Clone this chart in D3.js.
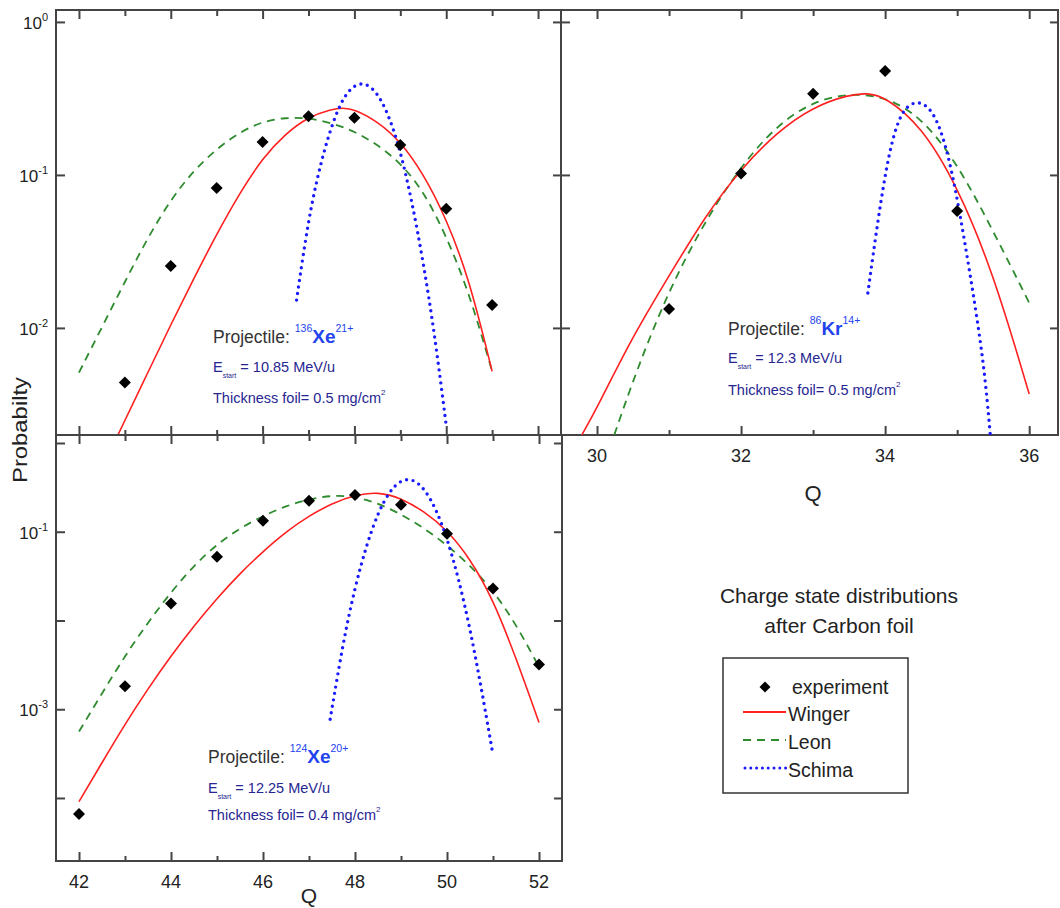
<!DOCTYPE html>
<html><head><meta charset="utf-8">
<script src="https://cdn.jsdelivr.net/npm/d3@7"></script>
<style>
body{margin:0;background:#fff}
svg{font-family:"Liberation Sans",Arial,Helvetica,sans-serif}
</style>
</head><body>
<svg id="c" width="1060" height="908"></svg>
<script>
// ---------------- DATA ----------------
// Panel A: 136Xe21+
const expA_Q = [43,44,45,46,47,48,49,50,51];
const expA_P = [0.0044,0.0254,0.082,0.164,0.242,0.236,0.157,0.060,0.0141];
const wingerA_Q = [42.85,43.5,44,44.5,45,45.5,46,46.5,47,47.5,47.75,48,48.5,49,49.5,50,50.5,51];
const wingerA_P = [0.0020,0.0051,0.0105,0.021,0.041,0.076,0.129,0.186,0.240,0.269,0.275,0.269,0.224,0.166,0.102,0.052,0.021,0.0052];
const leonA_Q = [42,42.5,43,43.5,44,44.5,45,45.5,46,46.5,47,47.5,48,48.5,49,49.5,50,50.5,51];
const leonA_P = [0.0051,0.0101,0.020,0.039,0.069,0.107,0.148,0.19,0.224,0.237,0.236,0.219,0.193,0.158,0.120,0.079,0.040,0.017,0.0052];
const schimaA_Q = [46.74,47.0,47.25,47.5,47.75,48.0,48.25,48.5,48.75,49.0,49.25,49.5,49.75,50.0];
const schimaA_P = [0.0152,0.052,0.115,0.21,0.32,0.39,0.40,0.345,0.245,0.145,0.068,0.027,0.0090,0.0023];

// Panel B: 86Kr14+
const expB_Q = [31,32,33,34,35];
const expB_P = [0.0133,0.102,0.339,0.478,0.058];
const wingerB_Q = [29.79,30,30.5,31,31.5,32,32.5,33,33.5,33.75,34,34.5,35,35.5,36];
const wingerB_P = [0.0020,0.0030,0.0089,0.0219,0.0537,0.110,0.191,0.279,0.335,0.343,0.324,0.21,0.085,0.023,0.0037];
const leonB_Q = [30.24,30.55,31,31.5,32,32.5,33,33.5,34,34.5,35,35.5,36];
const leonB_P = [0.0020,0.0053,0.0178,0.050,0.115,0.212,0.303,0.342,0.326,0.24,0.12,0.043,0.0146];
const schimaB_Q = [33.76,33.9,34.05,34.2,34.35,34.5,34.65,34.8,34.95,35.1,35.25,35.38,35.46];
const schimaB_P = [0.0169,0.051,0.14,0.245,0.295,0.30,0.265,0.185,0.095,0.038,0.014,0.0053,0.0020];

// Panel C: 124Xe20+
const expC_Q = [42,43,44,45,46,47,48,49,50,51,52];
const expC_P = [0.000066,0.00181,0.0155,0.0524,0.133,0.223,0.26,0.201,0.095,0.0229,0.0032];
const wingerC_Q = [42,42.5,43,43.5,44,44.5,45,45.5,46,46.5,47,47.5,48,48.5,49,49.5,50,50.5,51,51.5,52];
const wingerC_P = [0.000091,0.00025,0.00068,0.0017,0.0040,0.0087,0.0178,0.034,0.060,0.100,0.151,0.209,0.26,0.282,0.240,0.170,0.105,0.050,0.0174,0.0038,0.00071];
const leonC_Q = [42,42.5,43,43.5,44,44.5,45,45.5,46,46.5,47,47.5,48,48.5,49,49.5,50,50.5,51,51.5,52];
const leonC_P = [0.00056,0.00151,0.0040,0.0095,0.0209,0.0417,0.0724,0.110,0.151,0.195,0.234,0.257,0.251,0.209,0.158,0.110,0.0708,0.0417,0.0219,0.0091,0.0030];
const schimaC_Q = [47.46,47.75,48.0,48.25,48.5,48.75,49.0,49.25,49.5,49.75,50.0,50.25,50.5,50.75,50.98];
const schimaC_P = [0.00077,0.006,0.0238,0.071,0.164,0.287,0.385,0.396,0.311,0.187,0.086,0.030,0.0082,0.0017,0.00035];

// tick values
const xTicksXe = [42,43,44,45,46,47,48,49,50,51,52];
const xLabelsXe = [42,44,46,48,50,52];
const xTicksKr = [30,31,32,33,34,35,36];
const xLabelsKr = [30,32,34,36];
const yDecadesTop = [1,0.1,0.01];
const yLabelsTop = [0,-1,-2];
const yDecadesBot = [1,0.1,0.01,0.001,0.0001];
const yLabelsBot = [-1,-3];

// annotation texts
const projA = ["136","Xe","21+","= 10.85 MeV/u","0.5"];
const projB = ["86","Kr","14+","= 12.3 MeV/u","0.5"];
const projC = ["124","Xe","20+","= 12.25 MeV/u","0.4"];
const legendNames = ["experiment","Winger","Leon","Schima"];
const titleLines = ["Charge state distributions","after Carbon foil"];

// ---------------- DRAW ----------------
const svg = d3.select("#c");
const AX = "#444";
const cWinger = "#ff2020", cLeon = "#2e8b2e", cSchima = "#1a1aff";
const zip = (q,p) => q.map((v,i)=>({q:v,p:p[i]}));

const panels = [
  {id:"A", x:d3.scaleLinear().domain([41.5,52.5]).range([56,561]),
   y:d3.scaleLog().domain([Math.pow(10,-2.7),Math.pow(10,0.078)]).range([435,10]),
   exp:zip(expA_Q,expA_P), w:zip(wingerA_Q,wingerA_P), l:zip(leonA_Q,leonA_P), s:zip(schimaA_Q,schimaA_P),
   xt:xTicksXe, major:v=>v%2===0, dec:yDecadesTop},
  {id:"B", x:d3.scaleLinear().domain([29.5,36.4]).range([561,1058]),
   y:d3.scaleLog().domain([Math.pow(10,-2.7),Math.pow(10,0.078)]).range([435,10]),
   exp:zip(expB_Q,expB_P), w:zip(wingerB_Q,wingerB_P), l:zip(leonB_Q,leonB_P), s:zip(schimaB_Q,schimaB_P),
   xt:xTicksKr, major:v=>v%2===0, dec:yDecadesTop},
  {id:"C", x:d3.scaleLinear().domain([41.5,52.5]).range([56,562]),
   y:d3.scaleLog().domain([Math.pow(10,-4.71),Math.pow(10,0.09)]).range([861,435]),
   exp:zip(expC_Q,expC_P), w:zip(wingerC_Q,wingerC_P), l:zip(leonC_Q,leonC_P), s:zip(schimaC_Q,schimaC_P),
   xt:xTicksXe, major:v=>v%2===0, dec:yDecadesBot}
];

const defs = svg.append("defs");

function styleAxis(g){
  g.select(".domain").remove();
  g.selectAll(".tick line").attr("stroke",AX).attr("stroke-width",2);
}

panels.forEach(P=>{
  const [x0,x1] = P.x.range(), [y1,y0] = P.y.range();
  defs.append("clipPath").attr("id","clip"+P.id).append("rect")
    .attr("x",x0).attr("y",y0).attr("width",x1-x0).attr("height",y1-y0);
  const g = svg.append("g");
  const majors = P.xt.filter(P.major), minors = P.xt.filter(v=>!P.major(v));
  g.append("g").attr("transform",`translate(0,${y1})`).call(d3.axisBottom(P.x).tickValues(majors).tickSize(-9).tickSizeOuter(0).tickFormat("")).call(styleAxis);
  g.append("g").attr("transform",`translate(0,${y1})`).call(d3.axisBottom(P.x).tickValues(minors).tickSize(-5).tickSizeOuter(0).tickFormat("")).call(styleAxis);
  g.append("g").attr("transform",`translate(0,${y0})`).call(d3.axisTop(P.x).tickValues(majors).tickSize(-9).tickSizeOuter(0).tickFormat("")).call(styleAxis);
  g.append("g").attr("transform",`translate(0,${y0})`).call(d3.axisTop(P.x).tickValues(minors).tickSize(-6).tickSizeOuter(0).tickFormat("")).call(styleAxis);
  g.append("g").attr("transform",`translate(${x0},0)`).call(d3.axisLeft(P.y).tickValues(P.dec).tickSize(-9).tickSizeOuter(0).tickFormat("")).call(styleAxis);
  g.append("g").attr("transform",`translate(${x1},0)`).call(d3.axisRight(P.y).tickValues(P.dec).tickSize(-8).tickSizeOuter(0).tickFormat("")).call(styleAxis);
  g.append("rect").attr("x",x0).attr("y",y0).attr("width",x1-x0).attr("height",y1-y0)
    .attr("fill","none").attr("stroke",AX).attr("stroke-width",2);

  const cg = g.append("g").attr("clip-path",`url(#clip${P.id})`);
  const line = d3.line().x(d=>P.x(d.q)).y(d=>P.y(d.p)).curve(d3.curveBasis);
  cg.append("path").attr("d",line(P.l)).attr("fill","none").attr("stroke",cLeon)
    .attr("stroke-width",1.8).attr("stroke-dasharray","8,6");
  cg.append("path").attr("d",line(P.w)).attr("fill","none").attr("stroke",cWinger).attr("stroke-width",1.6);
  cg.append("path").attr("d",line(P.s)).attr("fill","none").attr("stroke",cSchima)
    .attr("stroke-width",3.4).attr("stroke-dasharray","0,6.6").attr("stroke-linecap","round");
  g.selectAll(".dia").data(P.exp).join("path")
    .attr("d",d3.symbol().type(d3.symbolSquare).size(72))
    .attr("transform",d=>`translate(${P.x(d.q)},${P.y(d.p)}) rotate(45)`)
    .attr("fill","#000");
});

const [pA,pB,pC] = panels;

// x tick labels
svg.append("g").selectAll("text").data(xLabelsKr).join("text")
  .attr("x",d=>pB.x(d)).attr("y",462).attr("text-anchor","middle")
  .attr("font-size",18).attr("fill","#222").text(d=>d);
svg.append("g").selectAll("text").data(xLabelsXe).join("text")
  .attr("x",d=>pC.x(d)).attr("y",888).attr("text-anchor","middle")
  .attr("font-size",18).attr("fill","#222").text(d=>d);

// y tick labels with superscripts
function yLabels(P, exps){
  const t = svg.append("g").selectAll("text").data(exps).join("text")
    .attr("x",48).attr("y",d=>P.y(Math.pow(10,d))+7).attr("text-anchor","end")
    .attr("font-size",17).attr("fill","#222");
  t.append("tspan").text("10");
  t.append("tspan").attr("dy",-8).attr("font-size",11).text(d=>d===0?"0":("-"+(-d)));
}
yLabels(pA, yLabelsTop);
yLabels(pC, yLabelsBot);

// axis titles
svg.append("text").attr("x",pB.x(33.0)).attr("y",501).attr("text-anchor","middle")
  .attr("font-size",22).attr("fill","#222").text("Q");
svg.append("text").attr("x",pC.x(47)).attr("y",903).attr("text-anchor","middle")
  .attr("font-size",21).attr("fill","#222").text("Q");
svg.append("text").attr("transform","translate(27,430) rotate(-90)").attr("text-anchor","middle")
  .attr("font-size",21).attr("fill","#222").attr("textLength",106).attr("lengthAdjust","spacingAndGlyphs")
  .text("Probabilty");

// annotations
function annot(x, b1, b2, b3, pr){
  const g = svg.append("g");
  const t1 = g.append("text").attr("x",x).attr("y",b1).attr("font-size",17.5).attr("fill","#333");
  t1.append("tspan").text("Projectile: ");
  t1.append("tspan").attr("dy",-11).attr("font-size",10.5).attr("fill","#2244ee").text(pr[0]);
  t1.append("tspan").attr("dy",11).attr("font-size",19).attr("font-weight","bold").attr("fill","#2244ee").text(pr[1]);
  t1.append("tspan").attr("dy",-11).attr("font-size",10.5).attr("fill","#2244ee").text(pr[2]);
  const t2 = g.append("text").attr("x",x).attr("y",b2).attr("font-size",14.5).attr("fill","#262692");
  t2.append("tspan").text("E");
  t2.append("tspan").attr("dy",6).attr("font-size",7).text("start");
  t2.append("tspan").attr("dy",-6).text(" "+pr[3]);
  const t3 = g.append("text").attr("x",x).attr("y",b3).attr("font-size",14.5).attr("fill","#262692");
  t3.append("tspan").text("Thickness foil= "+pr[4]+" mg/cm");
  t3.append("tspan").attr("dy",-8).attr("font-size",8).text("2");
}
annot(213,343,372,403,projA);
annot(728,335,363,395,projB);
annot(208,763,793,820,projC);

// title
svg.append("g").selectAll("text").data(titleLines).join("text")
  .attr("x",839).attr("y",(d,i)=>603+i*30).attr("text-anchor","middle")
  .attr("font-size",21).attr("fill","#222").text(d=>d);

// legend
const lg = svg.append("g");
lg.append("rect").attr("x",723).attr("y",658).attr("width",185).attr("height",135)
  .attr("fill","#fff").attr("stroke","#333").attr("stroke-width",1.5);
const ly = [687,712,740,768];
lg.append("path").attr("d",d3.symbol().type(d3.symbolSquare).size(60))
  .attr("transform",`translate(765,${ly[0]}) rotate(45)`).attr("fill","#000");
lg.append("line").attr("x1",743).attr("x2",786).attr("y1",ly[1]).attr("y2",ly[1]).attr("stroke",cWinger).attr("stroke-width",2);
lg.append("line").attr("x1",743).attr("x2",786).attr("y1",ly[2]).attr("y2",ly[2]).attr("stroke",cLeon).attr("stroke-width",1.8).attr("stroke-dasharray","8,6");
lg.append("line").attr("x1",745).attr("x2",786).attr("y1",ly[3]).attr("y2",ly[3]).attr("stroke",cSchima).attr("stroke-width",3).attr("stroke-dasharray","0,5.8").attr("stroke-linecap","round");
lg.selectAll(".lt").data(legendNames).join("text")
  .attr("x",(d,i)=>i===0?792:788).attr("y",(d,i)=>ly[i]+(i===0?7:9))
  .attr("font-size",19.5).attr("fill","#222").text(d=>d);
</script>
</body></html>
